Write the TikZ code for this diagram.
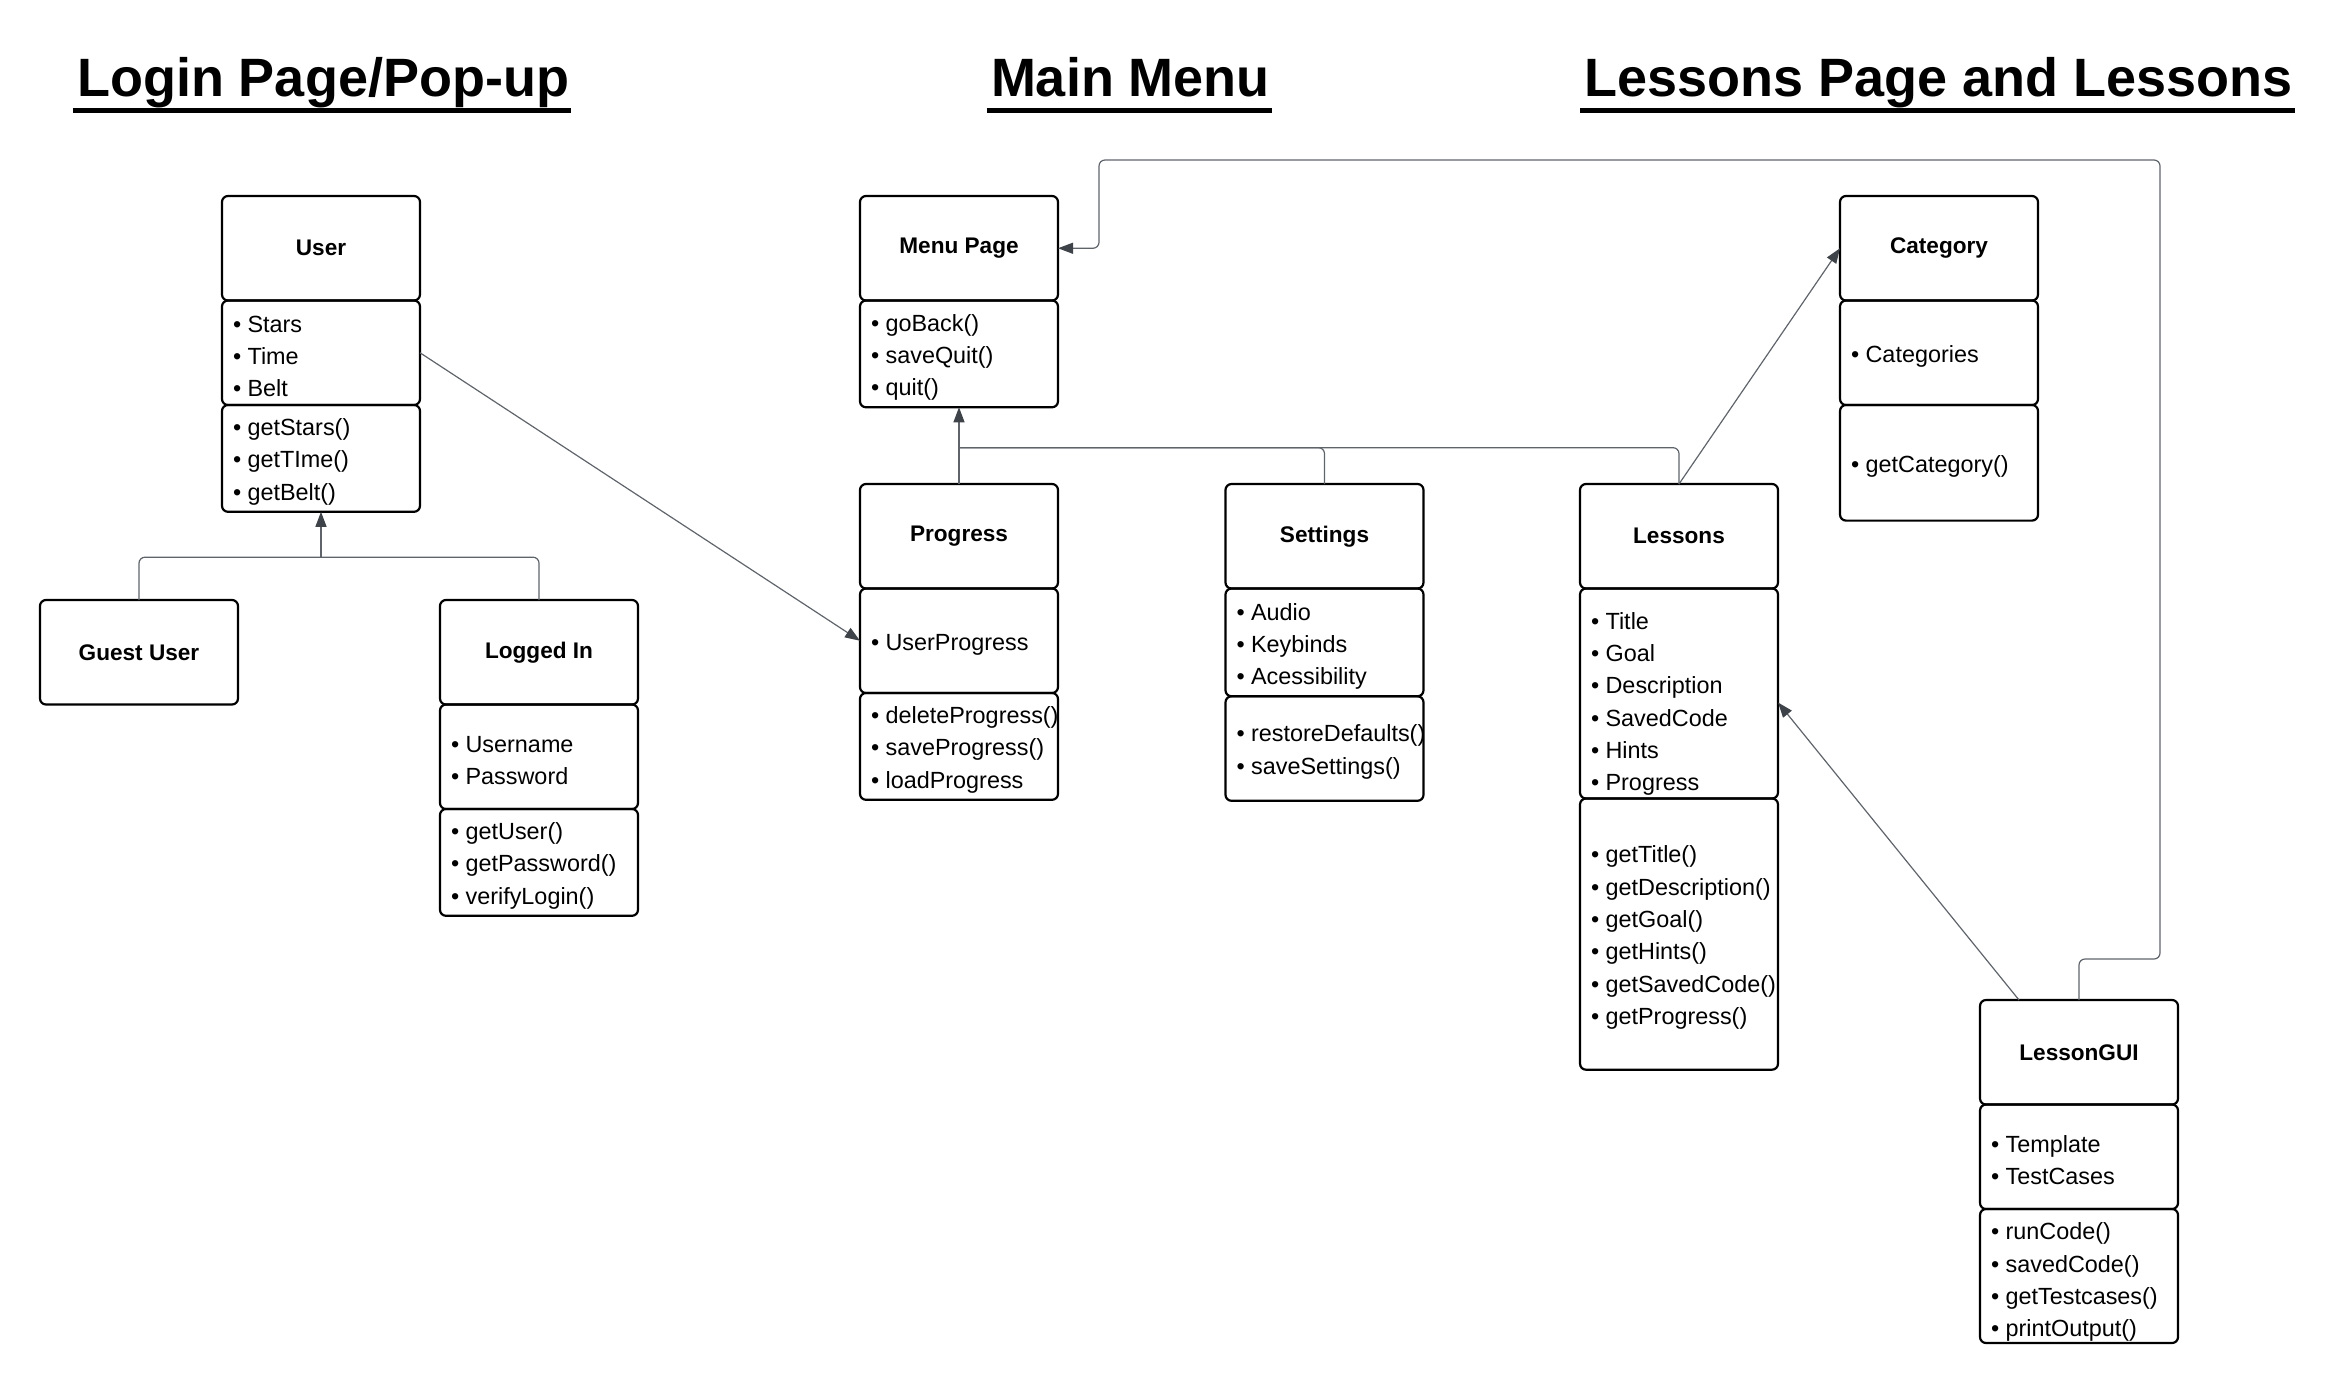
\documentclass[tikz,border=0pt]{standalone}
\usepackage{fontspec}
\setmainfont{Liberation Sans}
\usepackage{tikz}
\usetikzlibrary{arrows.meta,positioning}
\definecolor{connc}{HTML}{5F646B}
\definecolor{tipc}{HTML}{3E434A}
\newcommand{\itm}[1]{\mbox{\textbullet\hspace{3.2pt}#1}}
\newcommand{\itemfont}{\fontsize{11.7}{16.15}\selectfont\hyphenpenalty=10000\relax}

\begin{document}
\begin{tikzpicture}[x=0.5pt, y=-0.5pt,
  hdr/.style={draw, line width=1.1pt, rounded corners=3pt, minimum width=99pt,
    minimum height=52.25pt, outer sep=0pt, font=\fontsize{11.3}{14}\selectfont\bfseries},
  lead/.style={execute at begin node={\rule{0pt}{#1}}},
  cmp/.style={draw, line width=1.1pt, rounded corners=3pt, text width=88pt,
    inner xsep=5.5pt, minimum height=#1, outer sep=0pt, align=left,
    font=\itemfont, lead=12pt},
  cmp/.default=52.25pt,
  ttl/.style={font=\fontsize{27}{30}\selectfont\bfseries, inner sep=0pt, anchor=base},
  uline/.style={line width=2.5pt},
  conn/.style={draw=connc, line width=0.6pt, rounded corners=3pt},
  arr/.style={conn, -{Triangle[length=7.5pt, width=5.5pt, color=tipc]}},
]
  \useasboundingbox (0,0) rectangle (2334,1382);

  % section titles
  \node[ttl] (tlogin) at (323,96.7) {Login Page/Pop-up};
  \node[ttl] (tmenu) at (1130.5,96.7) {Main Menu};
  \node[ttl] (tless) at (1938.5,96.7) {Lessons Page and Lessons};
  \foreach \t in {tlogin,tmenu,tless}
    \draw[uline] ([xshift=-2pt,yshift=-6.9pt]\t.base west)
      -- ([xshift=1pt,yshift=-6.9pt]\t.base east);

  % login
  \node[hdr, anchor=north] (uhead) at (321,196) {User};
  \node[cmp, below=0pt of uhead] (uattr) {\itm{Stars}\\\itm{Time}\\\itm{Belt}};
  \node[cmp, below=0pt of uattr] (umeth)
    {\itm{getStars()}\\\itm{getTIme()}\\\itm{getBelt()}};
  \node[hdr, anchor=north] (guest) at (139,600) {Guest User};
  \node[hdr, anchor=north] (lhead) at (539,600) {Logged In};
  \node[cmp, below=0pt of lhead, lead=8pt] (lattr) {\itm{Username}\\\itm{Password}};
  \node[cmp, below=0pt of lattr] (lmeth)
    {\itm{getUser()}\\\itm{getPassword()}\\\itm{verifyLogin()}};

  % main menu
  \node[hdr, anchor=north] (mhead) at (959,196) {Menu Page};
  \node[cmp, below=0pt of mhead] (mmeth)
    {\itm{goBack()}\\\itm{saveQuit()}\\\itm{quit()}};
  \node[hdr, anchor=north] (phead) at (959,484) {Progress};
  \node[cmp, below=0pt of phead] (pattr) {\itm{UserProgress}};
  \node[cmp, below=0pt of pattr] (pmeth)
    {\itm{deleteProgress()}\\\itm{saveProgress()}\\\itm{loadProgress}};
  \node[hdr, anchor=north] (shead) at (1324.5,484) {Settings};
  \node[cmp, below=0pt of shead, lead=12.5pt] (sattr)
    {\itm{Audio}\\\itm{Keybinds}\\\itm{Acessibility}};
  \node[cmp, below=0pt of sattr] (smeth)
    {\itm{restoreDefaults()}\\\itm{saveSettings()}};

  % lessons
  \node[hdr, anchor=north] (lshead) at (1679,484) {Lessons};
  \node[cmp=105pt, below=0pt of lshead, lead=19pt, inner ysep=0pt] (lsattr)
    {\itm{Title}\\\itm{Goal}\\\itm{Description}\\\itm{SavedCode}\\\itm{Hints}\\\itm{Progress}};
  \node[cmp=135.6pt, below=0pt of lsattr] (lsmeth)
    {\itm{getTitle()}\\\itm{getDescription()}\\\itm{getGoal()}\\\itm{getHints()}\\\itm{getSavedCode()}\\\itm{getProgress()}};
  \node[hdr, anchor=north] (chead) at (1939,196) {Category};
  \node[cmp, below=0pt of chead, lead=10.5pt] (cattr) {\itm{Categories}};
  \node[cmp=57.8pt, below=0pt of cattr] (cmeth) {\itm{getCategory()}};
  \node[hdr, anchor=north] (ghead) at (2079,1000) {LessonGUI};
  \node[cmp, below=0pt of ghead, lead=10.5pt] (gattr) {\itm{Template}\\\itm{TestCases}};
  \node[cmp=67pt, below=0pt of gattr, lead=14.8pt, inner ysep=0pt] (gmeth)
    {\itm{runCode()}\\\itm{savedCode()}\\\itm{getTestcases()}\\\itm{printOutput()}};

  % connectors
  \coordinate[below=22.7pt of umeth] (ujoin);
  \draw[arr] (ujoin) -- (umeth.south);
  \draw[conn] (guest.north) |- (ujoin);
  \draw[conn] (lhead.north) |- (ujoin);

  \coordinate[below=20.2pt of mmeth] (mjoin);
  \draw[arr] (phead.north) -- (mmeth.south);
  \draw[conn] (shead.north) |- (mjoin);
  \draw[conn] (lshead.north) |- (mjoin);

  \draw[arr] (uattr.east) -- (pattr.west);
  \draw[arr] (lshead.north) -- (chead.west);
  \draw[arr] ([xshift=-30pt]ghead.north) -- ([yshift=-4.5pt]lsattr.east);

  \coordinate (backNE) at (2160,160);
  \coordinate (backNW) at (1099,160);
  \draw[arr] (ghead.north) -- ++(0,-41) -| (backNE) -- (backNW) |- (mhead.east);
\end{tikzpicture}
\end{document}
